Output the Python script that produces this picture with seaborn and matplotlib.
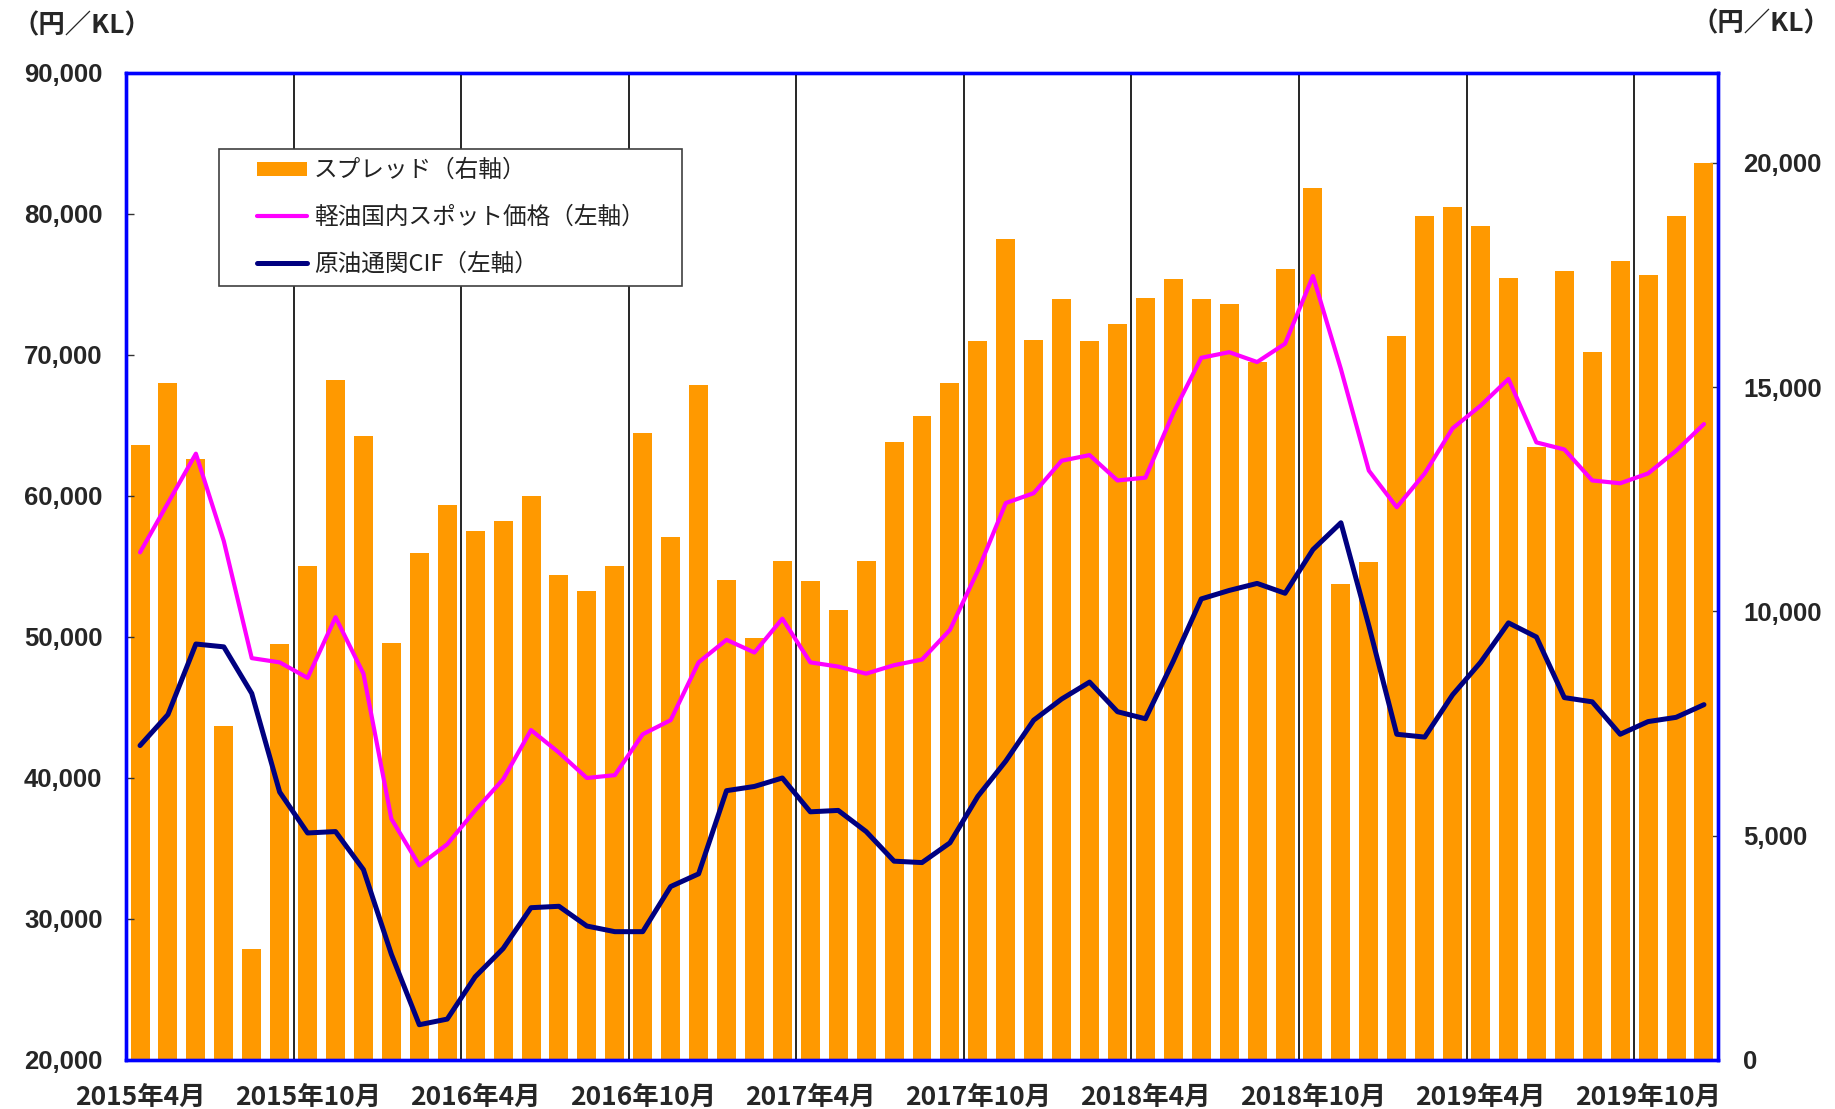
import numpy as np
import pandas as pd
import seaborn as sns
from matplotlib import pyplot as plt
from matplotlib.patches import Patch, Rectangle
from matplotlib.lines import Line2D


# months 2015/4 - 2019/12
MONTHS = [f'{y}年{m}月' for y in range(2015, 2020) for m in range(1, 13)][3:]

# spread (right axis, yen/KL)
SPREAD = [
    13700, 15100, 13400, 7450, 2480, 9280, 11020, 15150, 13900, 9300,
    11300, 12380, 11780, 12010, 12570, 10810, 10450, 11010, 13970, 11660,
    15040, 10700, 9410, 11130, 10670, 10040, 11130, 13770, 14350, 15090,
    16030, 18310, 16050, 16960, 16030, 16400, 16990, 17400, 16960, 16860,
    15550, 17630, 19430, 10600, 11110, 16130, 18810, 19010, 18600, 17420,
    13670, 17590, 15790, 17800, 17490, 18810, 20000,
]

# diesel domestic spot price (left axis)
DIESEL = [
    56000, 59500, 63000, 56800, 48500, 48200, 47100, 51400, 47400, 37100,
    33800, 35300, 37700, 39900, 43400, 41800, 40000, 40200, 43100, 44100,
    48200, 49800, 48900, 51300, 48200, 47900, 47400, 48000, 48400, 50500,
    54700, 59500, 60200, 62500, 62900, 61100, 61300, 65900, 69800, 70200,
    69500, 70800, 75600, 69000, 61800, 59200, 61600, 64800, 66400, 68300,
    63800, 63300, 61100, 60900, 61600, 63200, 65100,
]

# crude oil customs CIF (left axis)
CRUDE = [
    42300, 44500, 49500, 49300, 46000, 39000, 36100, 36200, 33500, 27500,
    22500, 22900, 25900, 27900, 30800, 30900, 29500, 29100, 29100, 32300,
    33200, 39100, 39400, 40000, 37600, 37700, 36200, 34100, 34000, 35400,
    38700, 41200, 44100, 45600, 46800, 44700, 44200, 48300, 52700, 53300,
    53800, 53100, 56200, 58100, 50800, 43100, 42900, 45900, 48200, 51000,
    50000, 45700, 45400, 43100, 44000, 44300, 45200,
]

LEGEND_LABELS = ['スプレッド（右軸）', '軽油国内スポット価格（左軸）', '原油通関CIF（左軸）']
UNIT = '（円／KL）'

ORANGE = '#FF9900'
PINK = '#FF00FF'
NAVY = '#000080'
BLUE = '#0000FF'

sns.set_theme(style='white')
plt.rcParams['font.family'] = ['Noto Sans CJK JP', 'DejaVu Sans']

df = pd.DataFrame({
    'month': MONTHS,
    'pos': np.arange(len(MONTHS)),
    'spread': SPREAD,
    'diesel': DIESEL,
    'crude': CRUDE,
})

fig = plt.figure(figsize=(18.35, 11.09), dpi=100)
ax = fig.add_axes([0.0687, 0.0442, 0.8675, 0.89])
ax2 = ax.twinx()

# bars on the right axis, lines on top
sns.barplot(data=df, x='month', y='spread', ax=ax2, color=ORANGE,
            saturation=1, width=0.68, linewidth=0)
sns.lineplot(data=df, x='pos', y='diesel', ax=ax, color=PINK, linewidth=3, sort=False)
sns.lineplot(data=df, x='pos', y='crude', ax=ax, color=NAVY, linewidth=3.6, sort=False)
ax.set_zorder(ax2.get_zorder() + 1)
ax.patch.set_visible(False)

ax.set_xlim(-0.5, len(MONTHS) - 0.5)
ax.set_ylim(20000, 90000)
ax2.set_ylim(0, 22000)

ax.set_xticks(df['pos'][::6])
ax.set_xticklabels(MONTHS[::6])
ax.set_xticks(np.arange(5.5, len(MONTHS), 6), minor=True)
ax.grid(which='minor', axis='x', color='black', linewidth=1.2)
ax.grid(which='major', axis='both', visible=False)
ax2.grid(False)

ax.set_yticks(range(20000, 90001, 10000))
ax.set_yticklabels([f'{v:,}' for v in range(20000, 90001, 10000)])
ax2.set_yticks(range(0, 20001, 5000))
ax2.set_yticklabels([f'{v:,}' for v in range(0, 20001, 5000)])

ax.set_xlabel('')
ax.set_ylabel('')
ax2.set_xlabel('')
ax2.set_ylabel('')

ax.tick_params(axis='x', which='both', length=0, pad=17)
for lab in ax.get_xticklabels():
    lab.set_fontsize(19)
    lab.set_fontweight('bold')
ax.tick_params(axis='y', direction='in', length=6, width=1, color='#333333', pad=17)
ax2.tick_params(axis='y', direction='in', length=6, width=1, color='#333333', pad=18)
for lab in ax.get_yticklabels() + ax2.get_yticklabels():
    lab.set_family(['Liberation Sans', 'DejaVu Sans'])
    lab.set_fontsize(18.5)
    lab.set_fontweight('bold')

for a in (ax, ax2):
    for sp in a.spines.values():
        sp.set_visible(True)
        sp.set_color(BLUE)
        sp.set_linewidth(2.4)

# legend box drawn separately so the entries can sit with a wide left margin
ax.add_patch(Rectangle((0.0584, 0.7839), 0.2908, 0.1387, transform=ax.transAxes,
                       facecolor='white', edgecolor='#404040', linewidth=1.2, zorder=4))
handles = [
    Patch(facecolor=ORANGE, edgecolor='none'),
    Line2D([], [], color=PINK, linewidth=3),
    Line2D([], [], color=NAVY, linewidth=3.6),
]
leg = ax.legend(handles, LEGEND_LABELS, loc='center left',
                bbox_to_anchor=(0.0823, 0.8538), frameon=False,
                fontsize=17, borderpad=0, borderaxespad=0, labelspacing=1.0,
                handlelength=2.1, handleheight=0.5, handletextpad=0.3)
leg.set_zorder(5)
for t in leg.get_texts():
    t.set_color('#222222')

fig.text(12 / 1835, 1 - 12 / 1109, UNIT, ha='left', va='top', fontsize=19, fontweight='bold')
fig.text(1830 / 1835, 1 - 10 / 1109, UNIT, ha='right', va='top', fontsize=19, fontweight='bold')

fig.savefig('out.png', dpi=100)
